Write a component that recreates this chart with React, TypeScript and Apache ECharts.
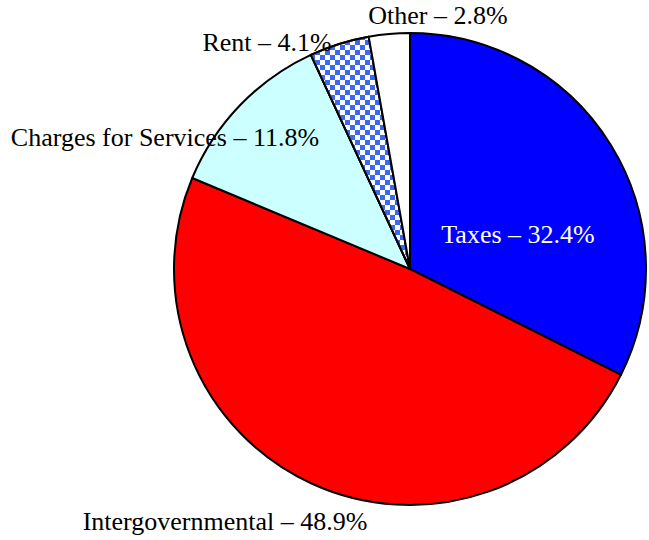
import React, { useEffect, useRef } from "react";
import * as echarts from "echarts";

const categories = ["Taxes", "Intergovernmental", "Charges for Services", "Rent", "Other"];
const shares = [32.4, 48.9, 11.8, 4.1, 2.8];

const COLORS = ["#0000ff", "#ff0000", "#ccffff", "#ffffff", "#ffffff"];
const LABEL_COLORS = ["#ffffff", "#000000", "#000000", "#000000", "#000000"];
const LABEL_POS: [number, number][] = [
  [518, 234],
  [225, 521],
  [165, 137],
  [267, 42],
  [438, 15],
];

export default function App() {
  const ref = useRef<HTMLDivElement>(null);
  useEffect(() => {
    if (!ref.current) return;
    const chart = echarts.init(ref.current, null, { renderer: "svg" });
    const data = categories.map((name, i) => {
      const item: any = {
        name,
        value: shares[i],
        itemStyle: { color: COLORS[i] },
        label: { color: LABEL_COLORS[i] },
      };
      if (name === "Rent") {
        item.itemStyle.decal = {
          symbol: "rect",
          symbolSize: 1,
          dashArrayX: [[5, 5], [0, 5, 5, 0]],
          dashArrayY: [5, 0],
          rotation: 0,
          color: "#3a68f5",
        };
      }
      return item;
    });
    chart.setOption({
      animation: false,
      backgroundColor: "#ffffff",
      series: [
        {
          type: "pie",
          center: [410, 269],
          radius: 236,
          startAngle: 90,
          clockwise: true,
          silent: true,
          itemStyle: { borderColor: "#000000", borderWidth: 2 },
          label: {
            show: true,
            position: "outside",
            alignTo: "none",
            overflow: "none",
            formatter: (p: any) => `${p.name} \u2013 ${p.value.toFixed(1)}%`,
            fontFamily: "Times New Roman, Liberation Serif, serif",
            fontSize: 26,
          },
          labelLine: { show: false, length: 0, length2: 0 },
          labelLayout: (params: any) => {
            const pos = LABEL_POS[params.dataIndex];
            return { x: pos[0], y: pos[1], align: "center", verticalAlign: "middle" };
          },
          data,
        },
      ],
    });
    return () => chart.dispose();
  }, []);
  return (
    <div
      ref={ref}
      style={{ position: "fixed", left: 0, top: 0, width: 649, height: 540 }}
    />
  );
}
